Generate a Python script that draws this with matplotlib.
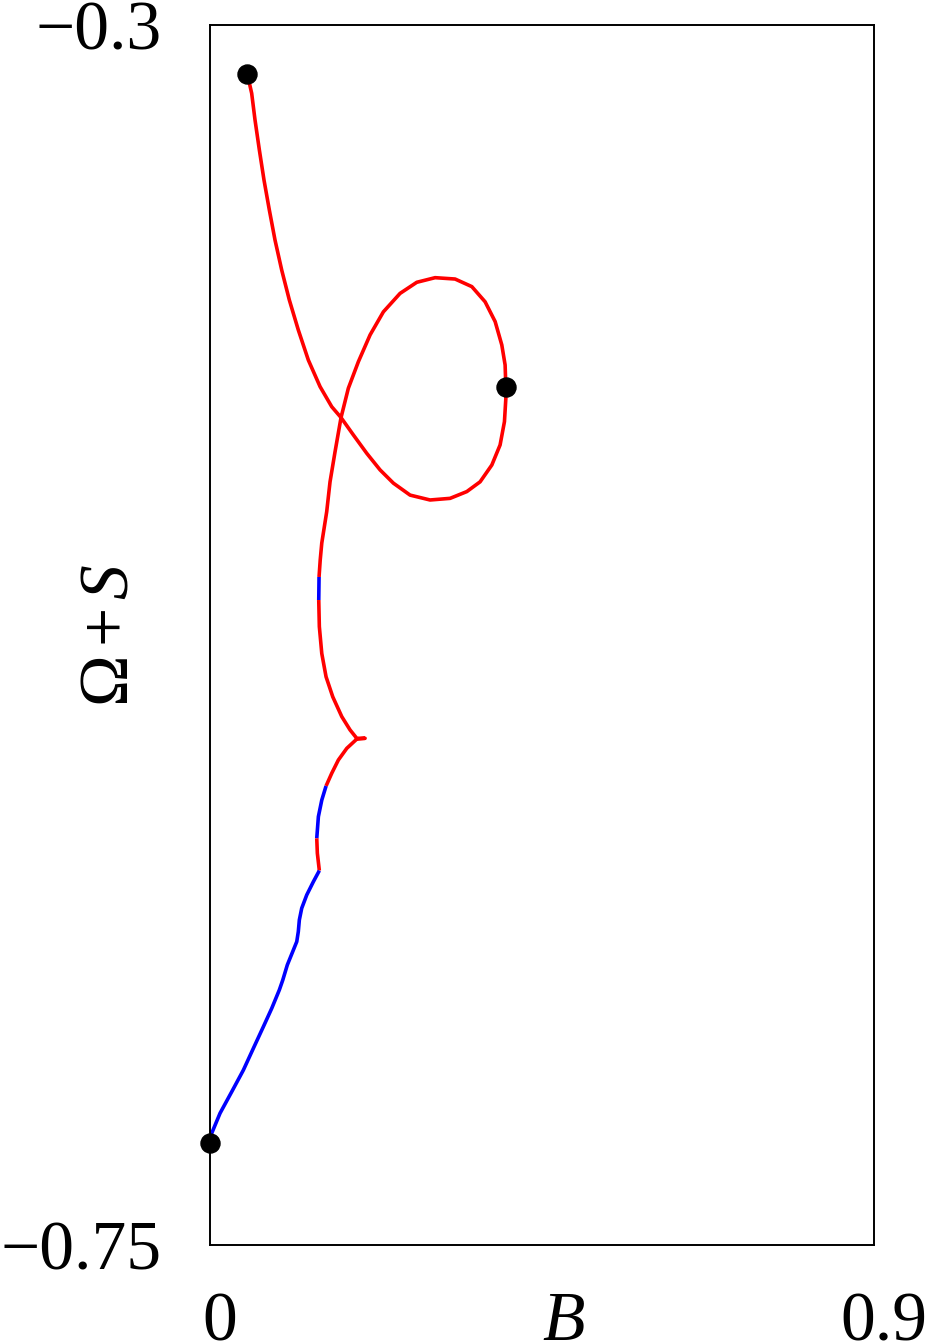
import matplotlib
matplotlib.use("Agg")
import matplotlib.pyplot as plt
import matplotlib.transforms as mtransforms
import numpy as np

plt.rcParams['font.family'] = ['Liberation Serif', 'DejaVu Serif']
plt.rcParams['mathtext.fontset'] = 'custom'
plt.rcParams['mathtext.rm'] = 'Liberation Serif'
plt.rcParams['mathtext.it'] = 'Liberation Serif:italic'

# Curve (B, Omega+S)
B = [0.0506, 0.0565, 0.0610, 0.0669, 0.0732, 0.0804, 0.0881, 0.0972, 0.1075, 0.1197,
     0.1333, 0.1492, 0.1650, 0.1776, 0.1943, 0.2125, 0.2305, 0.2486, 0.2712, 0.2983,
     0.3254, 0.3481, 0.3661, 0.3820, 0.3932, 0.3991, 0.4010, 0.4010, 0.4000, 0.3955,
     0.3865, 0.3729, 0.3549, 0.3322, 0.3051, 0.2803, 0.2576, 0.2350, 0.2170, 0.2011,
     0.1875, 0.1776, 0.1695, 0.1627, 0.1582, 0.1515, 0.1494, 0.1478, 0.1474, 0.1482,
     0.1515, 0.1573, 0.1664, 0.1786, 0.1898, 0.1989, 0.2102, 0.1989, 0.1854, 0.1740,
     0.1650, 0.1573, 0.1515, 0.1469, 0.1447, 0.1455, 0.1482, 0.1401, 0.1311, 0.1243,
     0.1211, 0.1197, 0.1176, 0.1121, 0.1048, 0.0986, 0.0940, 0.0837, 0.0723, 0.0587,
     0.0452, 0.0294, 0.0136, 0.0023, 0.0000]
OmegaS = [-0.3181, -0.3252, -0.3350, -0.3461, -0.3572, -0.3682, -0.3793, -0.3904, -0.4014, -0.4125,
          -0.4236, -0.4334, -0.4408, -0.4448, -0.4512, -0.4580, -0.4641, -0.4690, -0.4734, -0.4752,
          -0.4746, -0.4721, -0.4685, -0.4623, -0.4549, -0.4463, -0.4377, -0.4334, -0.4254, -0.4180,
          -0.4094, -0.4021, -0.3965, -0.3937, -0.3932, -0.3949, -0.3990, -0.4058, -0.4143, -0.4242,
          -0.4340, -0.4448, -0.4574, -0.4685, -0.4795, -0.4911, -0.4973, -0.5036, -0.5121, -0.5219,
          -0.5318, -0.5404, -0.5478, -0.5551, -0.5600, -0.5631, -0.5631, -0.5634, -0.5668, -0.5711,
          -0.5760, -0.5807, -0.5859, -0.5920, -0.6000, -0.6055, -0.6119, -0.6160, -0.6209, -0.6258,
          -0.6301, -0.6344, -0.6381, -0.6418, -0.6467, -0.6523, -0.6559, -0.6627, -0.6695, -0.6775,
          -0.6855, -0.6935, -0.7014, -0.7088, -0.7125]

# colour of each stretch of the curve (index ranges into the arrays above)
segment_starts = [0, 47, 48, 61, 64, 66]
segment_ends = [47, 48, 61, 64, 66, 84]
segment_colors = ['#ff0000', '#0000ff', '#ff0000', '#0000ff', '#ff0000', '#0000ff']

# marked points
dot_B = [0.0506, 0.4010, 0.0000]
dot_OmegaS = [-0.3181, -0.4334, -0.7125]

x_ticks = [0, 0.9]
x_ticklabels = ['0', '0.9']
y_ticks = [-0.75, -0.3]
y_ticklabels = ['\u22120.75', '\u22120.3']

fig = plt.figure(figsize=(9.26, 13.44), dpi=100)
ax = fig.add_axes([210/926, 1 - 1245/1344, 664/926, 1220/1344])

Ba = np.array(B)
Oa = np.array(OmegaS)
for s, e, c in zip(segment_starts, segment_ends, segment_colors):
    ax.plot(Ba[s:e+1], Oa[s:e+1], color=c, lw=2.6, solid_capstyle='butt',
            solid_joinstyle='round', zorder=2)

ax.plot(dot_B, dot_OmegaS, 'o', color='black', ms=13.7, zorder=3, clip_on=False)

ax.set_xlim(0, 0.9)
ax.set_ylim(-0.75, -0.3)
ax.set_xticks(x_ticks)
ax.set_xticklabels(x_ticklabels)
ax.set_yticks(y_ticks)
ax.set_yticklabels(y_ticklabels)
ax.tick_params(axis='both', length=0, labelsize=50)
ax.tick_params(axis='x', pad=34)
ax.tick_params(axis='y', pad=35)

off = mtransforms.ScaledTranslation(10/100, 0, fig.dpi_scale_trans)
for lab in ax.get_xticklabels():
    lab.set_transform(lab.get_transform() + off)

for sp in ax.spines.values():
    sp.set_linewidth(1.4)
    sp.set_color('black')

ax.set_xlabel(r'$B$', fontsize=50)
ax.xaxis.set_label_coords(0.533, -0.0385)
ax.set_ylabel(r'$\Omega\,{+}\,S$', fontsize=50)
ax.yaxis.set_label_coords(-0.101, 0.5)

fig.savefig('out.png', dpi=100)
